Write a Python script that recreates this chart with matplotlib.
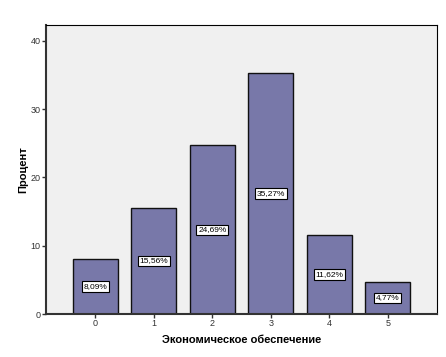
import matplotlib.pyplot as plt

categories = ["0", "1", "2", "3", "4", "5"]
percents = [8.09, 15.56, 24.69, 35.27, 11.62, 4.77]
value_labels = ["8,09%", "15,56%", "24,69%", "35,27%", "11,62%", "4,77%"]
y_ticks = [0, 10, 20, 30, 40]

plt.rcParams["font.family"] = ["Liberation Sans", "DejaVu Sans"]

fig = plt.figure(figsize=(4.46, 3.57), dpi=100)
ax = fig.add_axes([0.103, 0.120, 0.877, 0.810])
ax.set_facecolor("#f0f0f0")

x = list(range(len(categories)))
ax.bar(x, percents, width=0.77, color="#7878a9", edgecolor="#111111", linewidth=1.0)

for xi, val, lab in zip(x, percents, value_labels):
    ax.text(xi, val / 2, lab, ha="center", va="center", fontsize=6,
            bbox=dict(boxstyle="square,pad=0.2", facecolor="white",
                      edgecolor="black", linewidth=0.8))

ax.set_xlim(-0.84, 5.84)
ax.set_ylim(0, 42.3)
ax.set_xticks(x)
ax.set_xticklabels(categories)
ax.set_yticks(y_ticks)
ax.tick_params(axis="both", labelsize=6.5, length=3, width=1, pad=0.8,
               color="#333333", labelcolor="#333333")

for side in ["top", "right"]:
    ax.spines[side].set_linewidth(0.8)
    ax.spines[side].set_color("black")
for side in ["left", "bottom"]:
    ax.spines[side].set_linewidth(1.5)
    ax.spines[side].set_color("#333333")

ax.set_xlabel("Экономическое обеспечение", fontsize=8, fontweight="bold", labelpad=5)
ax.set_ylabel("Процент", fontsize=8, fontweight="bold", labelpad=2)

fig.savefig("out.png", dpi=100)
